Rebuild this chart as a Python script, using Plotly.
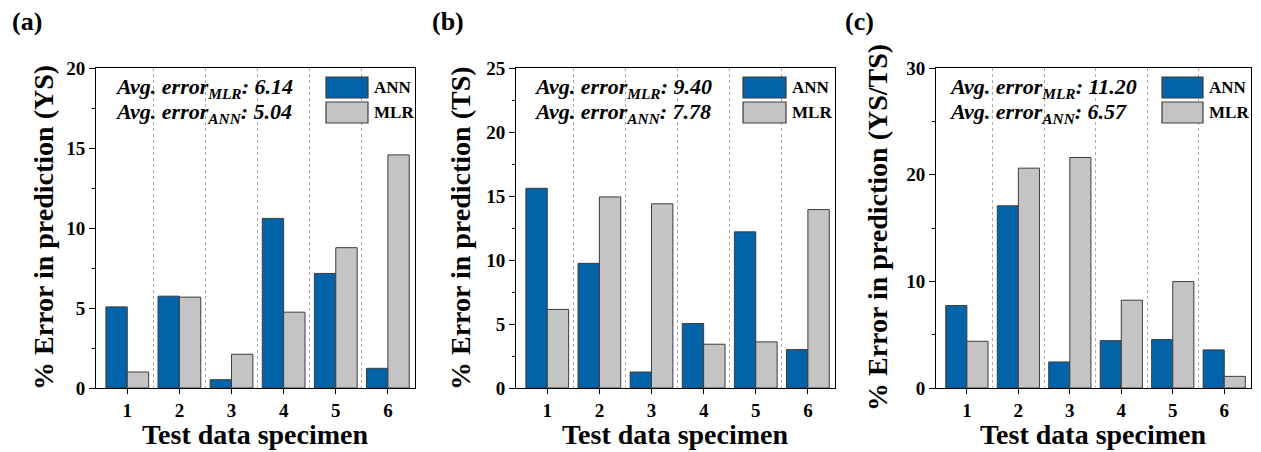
import plotly.graph_objects as go

specimens = [1, 2, 3, 4, 5, 6]
tick_labels = ["1", "2", "3", "4", "5", "6"]

ann_ys = [5.07, 5.74, 0.52, 10.6, 7.16, 1.23]
mlr_ys = [1.0, 5.68, 2.11, 4.74, 8.77, 14.57]

ann_ts = [15.6, 9.74, 1.25, 5.04, 12.2, 3.0]
mlr_ts = [6.14, 14.93, 14.39, 3.42, 3.6, 13.94]

ann_ysts = [7.73, 17.08, 2.44, 4.44, 4.54, 3.57]
mlr_ysts = [4.38, 20.61, 21.61, 8.23, 9.98, 1.09]

panel_labels = ["(a)", "(b)", "(c)"]
y_titles = ["% Error in prediction (YS)", "% Error in prediction (TS)", "% Error in prediction (YS/TS)"]
x_title = "Test data specimen"
avg_mlr = ["6.14", "9.40", "11.20"]
avg_ann = ["5.04", "7.78", "6.57"]
y_max = [20, 25, 30]
y_dtick = [5, 5, 10]

ANN_C = "rgb(3,99,168)"
MLR_C = "rgb(196,196,196)"
EDGE = "rgb(60,60,60)"
FONT = "Liberation Serif"

W, H = 1261, 452
boxes = [(96, 415), (516, 835), (936, 1251)]
top_px, bot_px = 68, 388

def px(x):
    return x / W

def py(y):
    return 1 - y / H

fig = go.Figure()
data = [(ann_ys, mlr_ys), (ann_ts, mlr_ts), (ann_ysts, mlr_ysts)]

for i, (ann, mlr) in enumerate(data):
    xa = "x" if i == 0 else f"x{i+1}"
    ya = "y" if i == 0 else f"y{i+1}"
    fig.add_trace(go.Bar(x=specimens, y=ann, name="ANN", marker=dict(color=ANN_C, line=dict(color=EDGE, width=1)),
                         xaxis=xa, yaxis=ya, showlegend=False, offsetgroup="ann"))
    fig.add_trace(go.Bar(x=specimens, y=mlr, name="MLR", marker=dict(color=MLR_C, line=dict(color=EDGE, width=1)),
                         xaxis=xa, yaxis=ya, showlegend=False, offsetgroup="mlr"))

layout = dict(
    width=W, height=H, margin=dict(l=0, r=0, t=0, b=0, autoexpand=False),
    paper_bgcolor="white", plot_bgcolor="white",
    barmode="group", bargap=0.18, bargroupgap=0.0,
    font=dict(family=FONT, color="black"),
)

annotations = []
shapes = []
for i in range(3):
    l, r = boxes[i]
    sx = "" if i == 0 else str(i + 1)
    layout["xaxis" + sx] = dict(
        domain=[px(l), px(r)], anchor="y" + sx, range=[0.4, 6.52],
        tickmode="array", tickvals=specimens, ticktext=tick_labels,
        ticks="outside", ticklen=5, tickcolor="black",
        showline=True, linecolor="black", linewidth=1, mirror=True,
        showgrid=False, zeroline=False,
        tickfont=dict(family=FONT, size=19, color="black", weight="bold"),
        minor=dict(tickvals=[1.5, 2.5, 3.5, 4.5, 5.5], showgrid=True, gridcolor="rgb(170,170,170)",
                   griddash="dot", gridwidth=1, ticks=""),
    )
    layout["yaxis" + sx] = dict(
        domain=[py(bot_px), py(top_px)], anchor="x" + sx, range=[0, y_max[i]],
        dtick=y_dtick[i], tick0=0,
        ticks="outside", ticklen=6, tickcolor="black",
        showline=True, linecolor="black", linewidth=1, mirror=True,
        showgrid=False, zeroline=False,
        tickfont=dict(family=FONT, size=19, color="black", weight="bold"),
        minor=dict(dtick=y_dtick[i] / 2, ticks="outside", ticklen=3, tickcolor="black"),
    )
    annotations.append(dict(text=f"<b>{panel_labels[i]}</b>", x=px([10, 430, 843][i]), y=py(22),
                            xref="paper", yref="paper", xanchor="left", yanchor="middle",
                            showarrow=False, font=dict(family=FONT, size=26, color="black")))
    annotations.append(dict(text=f"<b>{y_titles[i]}</b>", x=px([43, 460, 877][i]), y=py((top_px + bot_px) / 2),
                            xref="paper", yref="paper", xanchor="center", yanchor="middle", textangle=-90,
                            showarrow=False, font=dict(family=FONT, size=28, color="black")))
    annotations.append(dict(text=f"<b>{x_title}</b>", x=px((l + r) / 2), y=py(434),
                            xref="paper", yref="paper", xanchor="center", yanchor="middle",
                            showarrow=False, font=dict(family=FONT, size=28, color="black")))
    tx = [113, 532, 947][i]
    annotations.append(dict(text=f"<b><i>Avg. error<sub>MLR</sub>: {avg_mlr[i]}</i></b>", x=px(tx), y=py(88),
                            xref="paper", yref="paper", xanchor="left", yanchor="middle",
                            showarrow=False, font=dict(family=FONT, size=22, color="black")))
    annotations.append(dict(text=f"<b><i>Avg. error<sub>ANN</sub>: {avg_ann[i]}</i></b>", x=px(tx), y=py(113),
                            xref="paper", yref="paper", xanchor="left", yanchor="middle",
                            showarrow=False, font=dict(family=FONT, size=22, color="black")))
    bl, br = [(326, 368), (743, 786), (1162, 1203)][i]
    for name, col, (y0, y1) in [("ANN", ANN_C, (77, 98)), ("MLR", MLR_C, (102, 123))]:
        shapes.append(dict(type="rect", xref="paper", yref="paper", x0=px(bl), x1=px(br), y0=py(y1), y1=py(y0),
                           fillcolor=col, line=dict(color=EDGE, width=1.2)))
        annotations.append(dict(text=f"<b>{name}</b>", x=px(br + 4), y=py((y0 + y1) / 2),
                                xref="paper", yref="paper", xanchor="left", yanchor="middle",
                                showarrow=False, font=dict(family=FONT, size=17, color="black")))

layout["annotations"] = annotations
layout["shapes"] = shapes
fig.update_layout(**layout)
fig.write_html("out.html", config={"displayModeBar": False},
               post_script="document.body.style.margin='0';document.body.style.padding='0';document.body.style.overflow='hidden';")
